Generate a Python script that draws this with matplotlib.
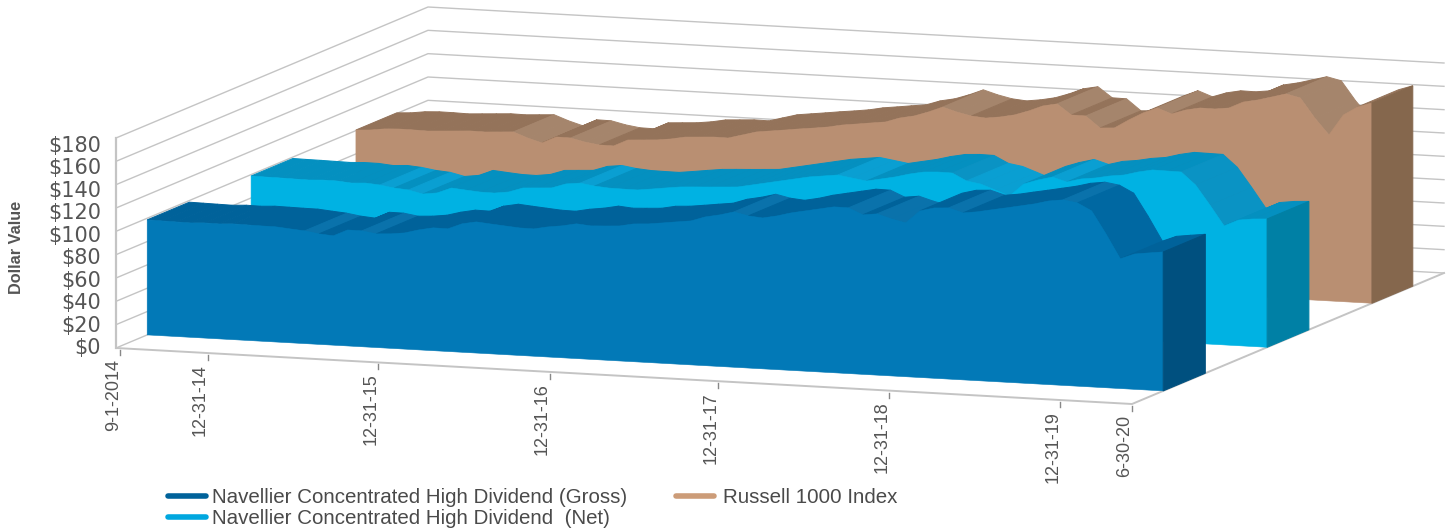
#!/usr/bin/env python3
"""Excel-style 3D area chart, drawn as an oblique projection on plain axes."""

import matplotlib
matplotlib.use("Agg")
import matplotlib.pyplot as plt
import numpy as np

# month index for each point is just the position in the list
GROSS = [98.6, 98.4, 98.2, 98.0, 98.7, 98.5, 99.2, 99.0, 98.8, 98.7, 97.6, 96.6,
         94.7, 93.7, 99.4, 99.3, 97.4, 98.1, 99.6, 102.9, 105.3, 105.1, 110.1, 112.4,
         111.3, 110.3, 109.3, 109.1, 111.5, 113.1, 115.5, 114.4, 115.0, 115.7, 118.1, 118.8,
         120.3, 121.9, 123.4, 127.5, 129.9, 133.1, 130.4, 129.3, 131.7, 135.0, 137.4, 139.8,
         142.2, 142.0, 136.7, 138.2, 134.6, 131.8, 142.8, 146.0, 146.7, 143.1, 144.7, 147.1,
         149.4, 151.8, 154.2, 157.4, 159.0, 157.1, 150.9, 131.9, 111.2, 116.0, 117.6, 119.1]
NET = [98.8, 98.6, 98.5, 98.3, 98.1, 98.7, 98.6, 97.5, 98.2, 97.2, 95.3, 94.3,
       91.5, 93.1, 98.0, 96.9, 95.9, 95.7, 97.3, 101.4, 102.1, 102.8, 106.9, 108.3,
       106.4, 105.4, 105.2, 105.1, 106.6, 108.2, 109.7, 110.4, 111.0, 111.7, 112.4, 114.8,
       117.2, 119.6, 122.0, 124.4, 125.9, 127.4, 125.5, 123.6, 126.0, 128.4, 131.6, 134.0,
       134.7, 134.5, 128.4, 126.4, 122.0, 117.5, 128.5, 132.6, 135.8, 132.2, 135.5, 137.0,
       139.4, 140.9, 144.2, 146.6, 146.4, 146.2, 135.8, 119.3, 102.0, 107.7, 109.3, 110.0]
RUSSELL = [100.5, 101.2, 102.8, 103.4, 103.3, 103.0, 103.7, 104.4, 105.1, 104.9, 105.6, 106.3,
           101.8, 98.2, 104.0, 103.8, 101.0, 99.2, 99.0, 104.8, 105.5, 106.2, 107.7, 110.0,
           110.7, 111.4, 111.2, 114.5, 117.8, 119.3, 120.8, 122.4, 123.8, 125.4, 127.8, 129.3,
           130.9, 132.4, 136.5, 138.9, 143.0, 147.9, 144.3, 141.6, 140.5, 142.1, 144.5, 148.6,
           153.6, 156.0, 147.2, 147.0, 137.4, 138.1, 145.6, 152.3, 157.3, 152.8, 156.9, 159.3,
           159.1, 160.6, 166.4, 168.8, 172.1, 175.4, 172.6, 156.2, 142.3, 160.0, 167.6, 171.7]

TICK_LABELS = ["9-1-2014", "12-31-14", "12-31-15", "12-31-16", "12-31-17",
               "12-31-18", "12-31-19", "6-30-20"]
TICK_POS = [0.3, 6.4, 18.3, 30.3, 42.1, 54.0, 66.0, 71.0]
Y_TICKS = list(range(0, 200, 20))

# projection: pixel position of the floor corner and the three box axes
ORIGIN = np.array([116.0, 348.0])
X_VEC = np.array([1016.0, 56.0])
D_VEC = np.array([312.0, -131.0])
V_SCALE = 210.0 / 180.0
N_LAST = len(GROSS) - 1

GRID = "#c4c4c4"
TEXT = "#555555"

# series: values, depth band, front, side, flat top, falling top, steep drop
BLOCKS = [
    (RUSSELL, 0.769, 0.90, "#b98f72", "#85674d", "#94735a", "#a5856c", "#a5856c"),
    (NET, 0.433, 0.567, "#00b2e3", "#0080a5", "#0490c0", "#0a9fd2", "#0a93c4"),
    (GROSS, 0.10, 0.235, "#0279b7", "#00507f", "#00629a", "#0a72ab", "#0068a2"),
]


def project(i, v, d):
    t = np.asarray(i, dtype=float) / N_LAST
    v = np.asarray(v, dtype=float)
    x = ORIGIN[0] + t * X_VEC[0] + d * D_VEC[0]
    y = ORIGIN[1] + t * X_VEC[1] + d * D_VEC[1] - v * V_SCALE
    return x, y


def poly(ax, pts, color, z):
    xs = [p[0] for p in pts]
    ys = [p[1] for p in pts]
    ax.fill(xs, ys, facecolor=color, edgecolor=color, linewidth=0.7, zorder=z)


def draw_box(ax):
    for v in Y_TICKS:
        x0, y0 = project(0, v, 0)
        x1, y1 = project(0, v, 1)
        x2, y2 = project(N_LAST, v, 1)
        ax.plot([x0, x1, x2], [y0, y1, y2], color=GRID, lw=1.0, zorder=1)
        ax.text(101, 348 - v * 202 / 180, f"${v}", ha="right", va="center",
                fontsize=15, color=TEXT, family="DejaVu Sans")
    x0, y0 = project(0, 0, 0)
    xt, yt = project(0, 180, 0)
    ax.plot([x0, xt], [y0, yt], color=GRID, lw=1.6, zorder=1)
    x1, y1 = project(N_LAST, 0, 0)
    x2, y2 = project(N_LAST, 0, 1)
    ax.plot([x0, x1, x2], [y0, y1, y2], color=GRID, lw=1.4, zorder=1)


def draw_block(ax, vals, d0, d1, front, side, flat, fall, steep, z):
    idx = np.arange(len(vals))
    fx, fy = project(idx, vals, d0)
    bx, by = project(idx, vals, d1)
    depth_slope = D_VEC[1] / D_VEC[0]
    for k in range(len(vals) - 1):
        slope = (fy[k + 1] - fy[k]) / (fx[k + 1] - fx[k])
        if slope <= depth_slope:
            continue  # faces away from the viewer
        drop = vals[k] - vals[k + 1]
        color = steep if drop > 6 else fall if drop > 1.2 else flat
        poly(ax, [(fx[k], fy[k]), (fx[k + 1], fy[k + 1]), (bx[k + 1], by[k + 1]), (bx[k], by[k])],
             color, z)
    b0x, b0y = project(idx, np.zeros(len(vals)), d0)
    ax.fill(np.r_[fx, b0x[::-1]], np.r_[fy, b0y[::-1]], facecolor=front, edgecolor=front,
            linewidth=0.4, zorder=z + 0.1)
    b1x, b1y = project(idx, np.zeros(len(vals)), d1)
    poly(ax, [(fx[-1], fy[-1]), (bx[-1], by[-1]), (b1x[-1], b1y[-1]), (b0x[-1], b0y[-1])],
         side, z + 0.1)


def main():
    fig = plt.figure(figsize=(14.49, 5.29), dpi=100)
    ax = fig.add_axes([0, 0, 1, 1])
    ax.set_xlim(0, 1449)
    ax.set_ylim(529, 0)
    ax.axis("off")

    draw_box(ax)
    for z, block in enumerate(BLOCKS):
        draw_block(ax, *block, z + 2)

    for pos, label in zip(TICK_POS, TICK_LABELS):
        x, y = project(pos, 0, 0)
        ax.plot([x, x], [y + 2, y + 7], color="#888888", lw=1, zorder=1)
        ax.text(x - 7, y + 11, label, rotation=90, ha="center", va="top",
                fontsize=13, color=TEXT, family="Liberation Sans")

    ax.text(17, 247, "Dollar Value", rotation=90, ha="center", va="center",
            fontsize=11.7, fontweight="bold", color=TEXT, family="Liberation Sans")

    legend = [
        (168, 212, 496, "#00629a", "Navellier Concentrated High Dividend (Gross)"),
        (168, 212, 517, "#00a7df", "Navellier Concentrated High Dividend  (Net)"),
        (676, 723, 496, "#cc9c78", "Russell 1000 Index"),
    ]
    for x, tx, y, color, label in legend:
        ax.plot([x, x + 38], [y, y], color=color, lw=4, solid_capstyle="round")
        ax.text(tx, y + 1.5, label, ha="left", va="center", fontsize=14.8,
                color="#4a4a4a", family="Liberation Sans")

    fig.savefig("out.png", dpi=100)


if __name__ == "__main__":
    main()
